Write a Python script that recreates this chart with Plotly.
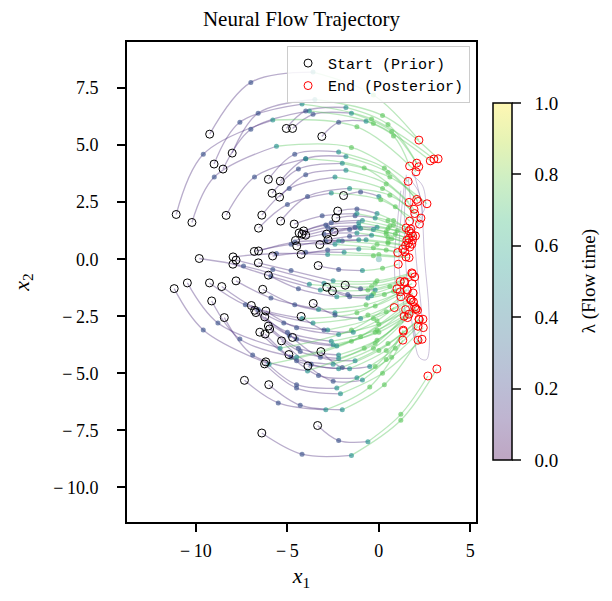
import plotly.graph_objects as go
from plotly.colors import sequential, hex_to_rgb

# ---------------- data ----------------
LAMBDA_STEPS = [0.0, 0.25, 0.5, 0.75, 1.0]

START_X = [-9.25, -8.02, -9.01, -8.52, -5.06, -4.72, -3.12, -11.08,
           -10.22, -6.04, -5.39, -8.35, -5.84, -5.43, -6.40, -5.37, -1.93, -6.58,
           -2.25, -2.35, -4.63, -4.11, -2.45, -4.36, -4.20, -2.86, -4.00, -2.78,
           -4.56, -3.23, -4.49, -6.58, -6.81, -4.25, -5.81, -7.97,
           -3.32, -6.59, -7.81, -9.82, -7.98, -1.84, -6.04, -2.85, -2.54, -7.81,
           -6.35, -9.26, -8.59, -10.47, -3.59, -11.19, -6.97, -9.14, -6.18, -4.25,
           -6.79, -6.72, -6.24, -8.45, -6.04, -5.97, -6.51, -4.72, -6.22, -5.32,
           -3.17, -4.92, -3.88, -6.18, -6.25, -7.35, -6.02, -3.35, -6.40]
START_Y = [5.48, 4.65, 4.17, 3.95, 5.73, 5.73, 5.38, 1.96,
           1.61, 3.50, 3.42, 1.92, 2.89, 2.72, 1.93, 1.67, 2.79, 1.36,
           2.11, 1.81, 1.54, 1.24, 1.20, 1.15, 1.10, 1.10, 1.05, 0.86,
           0.82, 0.64, 0.58, 0.36, 0.34, 0.21, 0.14, 0.10,
           -0.28, -0.16, -0.04, 0.03, -0.22, -1.14, -0.70, -1.23, -1.39, -0.95,
           -1.32, -1.04, -1.20, -1.04, -1.94, -1.29, -2.03, -1.83, -2.27, -2.51,
           -2.24, -2.34, -2.53, -2.56, -2.93, -3.06, -3.20, -3.43, -3.28, -3.58,
           -4.05, -4.18, -4.68, -4.50, -4.59, -5.31, -5.50, -7.29, -7.62]

MID1_X = [-7.0, -6.6, -7.6, -7.0, -4.0, -3.6, -2.2, -9.6,
          -9.0, -4.6, -4.0, -6.8, -4.4, -4.0, -4.9, -3.9, -1.0, -5.0,
          -1.2, -1.3, -3.1, -2.6, -1.3, -2.9, -2.8, -1.6, -2.6, -1.6,
          -3.0, -2.0, -2.9, -4.6, -4.8, -2.8, -4.0, -5.6,
          -2.2, -4.8, -5.8, -7.4, -5.9, -1.0, -4.4, -1.7, -1.6, -5.9,
          -4.6, -7.3, -6.6, -8.8, -2.4, -9.6, -5.2, -7.6, -4.5, -3.0,
          -5.0, -4.9, -4.5, -6.9, -4.4, -4.3, -4.8, -3.2, -4.5, -3.7,
          -2.0, -3.3, -2.5, -4.5, -4.5, -5.5, -4.3, -2.2, -4.2]
MID1_Y = [7.75, 6.4, 6.0, 5.7, 6.5, 6.35, 6.0, 4.6,
          3.6, 4.6, 4.4, 3.6, 3.95, 3.7, 3.1, 2.75, 2.95, 2.4,
          2.2, 1.9, 1.9, 1.6, 1.4, 1.5, 1.4, 1.3, 1.3, 1.0,
          1.1, 0.8, 0.8, 0.75, 0.65, 0.4, 0.3, 0.25,
          -0.45, -0.5, -0.45, -0.3, -0.75, -1.3, -1.3, -1.55, -1.65, -1.7,
          -2.0, -2.0, -2.2, -2.8, -2.45, -3.1, -2.8, -3.5, -3.0, -3.1,
          -3.2, -3.35, -3.5, -4.2, -3.9, -4.05, -4.3, -4.3, -4.45, -4.6,
          -4.75, -5.1, -5.35, -5.5, -5.65, -6.3, -6.4, -7.95, -8.55]

MID2_X = [-3.6, -3.5, -4.2, -3.8, -1.8, -1.5, -0.7, -5.8,
          -5.6, -2.2, -1.8, -4.0, -2.0, -1.8, -2.4, -1.6, 0.0, -2.6,
          -0.1, -0.2, -1.2, -0.9, -0.1, -1.1, -1.1, -0.3, -1.0, -0.4,
          -1.2, -0.7, -1.1, -2.2, -2.4, -1.1, -1.9, -2.8,
          -0.9, -2.5, -3.0, -3.8, -3.2, -0.2, -2.3, -0.4, -0.6, -3.3,
          -2.4, -4.2, -3.6, -5.4, -1.0, -6.0, -2.8, -4.5, -2.2, -1.4,
          -2.6, -2.5, -2.3, -3.9, -2.2, -2.2, -2.5, -1.3, -2.2, -1.6,
          -0.5, -1.2, -0.9, -2.3, -2.1, -2.9, -2.0, -0.6, -1.5]
MID2_Y = [8.2, 7.0, 6.8, 6.5, 6.65, 6.4, 6.05, 6.1,
          4.95, 4.7, 4.5, 4.4, 4.2, 3.9, 3.6, 3.1, 2.75, 2.9,
          2.0, 1.8, 2.0, 1.7, 1.4, 1.6, 1.45, 1.3, 1.35, 1.05,
          1.15, 0.85, 0.85, 0.8, 0.65, 0.45, 0.3, 0.2,
          -0.5, -0.95, -1.05, -1.1, -1.35, -1.35, -1.65, -1.6, -1.7, -2.2,
          -2.35, -2.6, -2.8, -3.9, -2.6, -4.6, -3.1, -4.3, -3.3, -3.2,
          -3.6, -3.75, -3.8, -4.9, -4.2, -4.35, -4.6, -4.45, -4.8, -4.8,
          -4.7, -5.2, -5.3, -5.65, -5.9, -6.6, -6.6, -8.0, -8.6]

MID3_X = [-0.3, 0.2, -0.4, -0.3, 0.5, 0.7, 0.8, -1.2,
          -1.5, 0.3, 0.5, -0.8, 0.6, 0.4, 0.2, 0.6, 0.9, 0.1,
          0.8, 0.8, 0.5, 0.6, 1.0, 0.5, 0.4, 0.9, 0.4, 0.7,
          0.5, 0.5, 0.5, -0.1, -0.3, 0.4, 0.0, -0.3,
          0.2, -0.1, -0.2, -0.4, -0.6, 0.6, -0.3, 0.8, 0.3, -0.7,
          -0.2, -1.2, -0.6, -1.5, 0.4, -1.5, -0.3, -1.0, 0.0, -0.1,
          -0.1, 0.0, -0.2, -0.8, -0.1, -0.2, -0.3, 0.5, 0.0, 0.4,
          0.9, 0.7, 0.4, -0.2, 0.2, -0.5, 0.3, 1.2, 1.2]
MID3_Y = [7.2, 6.3, 6.15, 5.95, 5.9, 5.6, 5.4, 5.8,
          4.9, 4.0, 3.8, 4.0, 3.6, 3.3, 3.1, 2.8, 2.3, 2.6,
          1.7, 1.5, 1.7, 1.45, 1.25, 1.35, 1.2, 1.1, 1.1, 0.9,
          0.95, 0.75, 0.7, 0.65, 0.5, 0.4, 0.2, 0.15,
          -0.4, -0.95, -1.05, -1.2, -1.35, -1.2, -1.5, -1.4, -1.55, -2.0,
          -2.05, -2.35, -2.45, -3.1, -2.3, -3.6, -2.6, -3.4, -2.85, -2.7,
          -3.1, -3.2, -3.2, -3.9, -3.55, -3.7, -3.9, -3.7, -4.0, -4.0,
          -3.9, -4.3, -4.4, -4.7, -5.0, -5.6, -5.5, -6.8, -7.06]

END_X = [2.19, 3.24, 3.01, 2.81, 2.07, 2.18, 1.68, 2.03,
         1.60, 2.07, 2.14, 1.65, 2.63, 1.92, 1.96, 2.30, 1.68, 2.22,
         1.49, 1.65, 1.75, 1.78, 2.00, 1.85, 1.65, 1.84, 1.53, 1.62,
         1.80, 1.46, 1.69, 1.31, 1.03, 1.42, 1.48, 1.65,
         1.06, 1.80, 1.83, 1.96, 1.17, 1.41, 1.39, 1.82, 0.99, 1.53,
         1.56, 1.17, 1.87, 1.21, 1.69, 1.77, 1.75, 1.89, 1.96, 0.84,
         2.02, 2.04, 1.46, 2.11, 1.65, 1.38, 1.57, 2.19, 2.21, 2.41,
         2.14, 2.43, 1.33, 1.34, 2.36, 1.31, 2.14, 2.68, 3.17]
END_Y = [5.22, 4.40, 4.39, 4.31, 4.21, 4.05, 4.08, 3.83,
         3.41, 2.62, 2.53, 2.49, 2.43, 2.19, 2.00, 1.80, 1.67, 1.54,
         1.37, 1.24, 1.32, 1.13, 1.02, 1.01, 0.91, 0.83, 0.83, 0.71,
         0.66, 0.60, 0.53, 0.44, 0.29, 0.32, 0.10, 0.07,
         -0.22, -0.60, -0.64, -0.78, -0.98, -0.98, -1.01, -1.07, -1.30, -1.33,
         -1.36, -1.43, -1.48, -1.65, -1.72, -1.78, -1.80, -1.87, -2.09, -2.12,
         -2.16, -2.19, -2.21, -2.24, -2.41, -2.50, -2.56, -2.63, -2.65, -2.63,
         -2.94, -3.00, -3.11, -3.16, -3.51, -3.55, -3.55, -5.12, -4.81]

# thin continuous flow lines without samples, near the posterior
LOOP_X = [[1.9, 2.3, 2.5, 2.75, 2.6, 2.2, 1.9],
          [1.6, 1.8, 2.1, 2.35, 2.2, 1.9],
          [1.2, 1.0, 0.85, 0.95, 1.3],
          [1.4, 1.2, 1.1, 1.2, 1.5],
          [1.8, 2.4, 2.5, 2.0],
          [1.7, 2.2, 2.35, 2.0],
          [1.5, 1.4, 1.45, 1.7, 1.9]]
LOOP_Y = [[3.8, 2.5, 0.0, -2.5, -4.4, -4.3, -3.0],
          [3.6, 2.0, -0.5, -2.8, -3.7, -3.0],
          [3.0, 1.5, 0.0, -1.5, -2.8],
          [3.3, 1.8, 0.3, -1.2, -2.5],
          [3.7, 3.2, 2.2, 1.7],
          [3.5, 2.9, 1.8, 1.3],
          [3.7, 2.0, 0.0, -2.0, -3.4]]

X_TICKS = [-10, -5, 0, 5]
X_TICKTEXT = ["\u2212\u200910", "\u2212\u20095", "0", "5"]
Y_TICKS = [-10, -7.5, -5, -2.5, 0, 2.5, 5, 7.5]
Y_TICKTEXT = ["\u2212\u200910.0", "\u2212\u20097.5", "\u2212\u20095.0", "\u2212\u20092.5",
              "0.0", "2.5", "5.0", "7.5"]
CB_TICKS = [0.0, 0.2, 0.4, 0.6, 0.8, 1.0]
CB_TICKTEXT = ["\u20070.0", "\u20070.2", "\u20070.4", "\u20070.6", "\u20070.8", "\u20071.0"]
CB_TITLE = "\u03bb (Flow time)"

# ---------------- styling helpers ----------------
VIR = sequential.Viridis
n_vir = len(VIR)
ALPHA = 0.35
pale_scale = []
for i, h in enumerate(VIR):
    r, g, b = hex_to_rgb(h)
    pr = round(ALPHA * r + (1 - ALPHA) * 255)
    pg = round(ALPHA * g + (1 - ALPHA) * 255)
    pb = round(ALPHA * b + (1 - ALPHA) * 255)
    pale_scale.append([i / (n_vir - 1), f"rgb({pr},{pg},{pb})"])

SERIF = "Liberation Serif, DejaVu Serif, serif"
MONO = "Liberation Mono, DejaVu Sans Mono, monospace"

n = len(START_X)
paths = []
for i in range(n):
    xs = [START_X[i], MID1_X[i], MID2_X[i], MID3_X[i], END_X[i]]
    ys = [START_Y[i], MID1_Y[i], MID2_Y[i], MID3_Y[i], END_Y[i]]
    paths.append((xs, ys))

fig = go.Figure()

half1_x, half1_y, half2_x, half2_y = [], [], [], []
for xs, ys in paths:
    half1_x += xs[0:3] + [None]
    half1_y += ys[0:3] + [None]
    half2_x += xs[2:5] + [None]
    half2_y += ys[2:5] + [None]

loop_x, loop_y = [], []
for lx, ly in zip(LOOP_X, LOOP_Y):
    loop_x += lx + [None]
    loop_y += ly + [None]

fig.add_trace(go.Scatter(x=loop_x, y=loop_y, mode="lines",
                         line=dict(color="rgba(110,80,150,0.35)", width=1, shape="spline"),
                         hoverinfo="skip", showlegend=False))
fig.add_trace(go.Scatter(x=half1_x, y=half1_y, mode="lines",
                         line=dict(color="rgba(72,40,120,0.38)", width=1.3, shape="spline"),
                         hoverinfo="skip", showlegend=False))
fig.add_trace(go.Scatter(x=half2_x, y=half2_y, mode="lines",
                         line=dict(color="rgba(94,201,98,0.42)", width=1.3, shape="spline"),
                         hoverinfo="skip", showlegend=False))

# intermediate samples coloured by lambda (start and end sit under their rings)
dot_x, dot_y, dot_c = [], [], []
for xs, ys in paths:
    dot_x += xs[1:4]
    dot_y += ys[1:4]
    dot_c += LAMBDA_STEPS[1:4]
fig.add_trace(go.Scatter(x=dot_x, y=dot_y, mode="markers",
                         marker=dict(size=5, color=dot_c, colorscale="Viridis",
                                     cmin=0, cmax=1, opacity=0.65),
                         hoverinfo="skip", showlegend=False))

# colour bar (pale, like the transparent lines)
fig.add_trace(go.Scatter(x=[0], y=[0], mode="markers",
                         marker=dict(size=0, color=[0.5], colorscale=pale_scale, cmin=0, cmax=1,
                                     showscale=True,
                                     colorbar=dict(
                                         x=1.048, xanchor="left", xref="paper", xpad=0,
                                         y=0.501, yanchor="middle", yref="paper", ypad=0,
                                         len=0.744, lenmode="fraction",
                                         thickness=19, outlinewidth=1.5, outlinecolor="black",
                                         ticks="outside", ticklen=9, tickwidth=1.6,
                                         tickvals=CB_TICKS, ticktext=CB_TICKTEXT,
                                         tickfont=dict(family=SERIF, size=19))),
                         hoverinfo="skip", showlegend=False))

fig.add_trace(go.Scatter(x=START_X, y=START_Y, mode="markers", name="Start (Prior)",
                         marker=dict(symbol="circle-open", size=8, color="black",
                                     line=dict(width=1, color="black"))))
fig.add_trace(go.Scatter(x=END_X, y=END_Y, mode="markers", name="End (Posterior)",
                         marker=dict(symbol="circle-open", size=8, color="red",
                                     line=dict(width=1, color="red"))))

axis_common = dict(showline=True, mirror=True, linecolor="black", linewidth=1.8,
                   ticks="outside", ticklen=8, tickwidth=1.6, tickcolor="black",
                   showgrid=False, zeroline=False,
                   tickfont=dict(family=SERIF, size=18, color="black"))

# the page adds an 8px body margin, so the figure is 8px smaller and margins shifted
fig.update_layout(
    width=604, height=593,
    margin=dict(l=115, r=136, t=34, b=79),
    plot_bgcolor="white", paper_bgcolor="white",
    font=dict(family=SERIF, size=17, color="black"),
    title=dict(text="Neural Flow Trajectory", xref="paper", x=0.5, xanchor="center",
               yref="container", y=1.0, yanchor="top", pad=dict(t=3, b=0, l=0, r=0),
               font=dict(family=SERIF, size=21)),
    xaxis=dict(range=[-13.77, 5.31], tickvals=X_TICKS, ticktext=X_TICKTEXT,
               ticklabelstandoff=3,
               title=dict(text="<i>x</i><sub>1</sub>", font=dict(family=SERIF, size=22), standoff=8),
               **axis_common),
    yaxis=dict(range=[-11.52, 9.52], tickvals=Y_TICKS, ticktext=Y_TICKTEXT,
               ticklabelstandoff=15,
               title=dict(text="<i>x</i><sub>2</sub>", font=dict(family=SERIF, size=22), standoff=18),
               **axis_common),
    legend=dict(x=0.983, xanchor="right", y=0.992, yanchor="top",
                bgcolor="rgba(255,255,255,0.85)", bordercolor="#cccccc", borderwidth=1,
                font=dict(family=MONO, size=15), tracegroupgap=0),
    annotations=[dict(text=CB_TITLE, xref="paper", yref="paper", x=1.323, y=0.501,
                      xanchor="center", yanchor="middle", textangle=-90, showarrow=False,
                      font=dict(family=SERIF, size=19, color="black"))],
    showlegend=True,
)

fig.write_html("out.html")
